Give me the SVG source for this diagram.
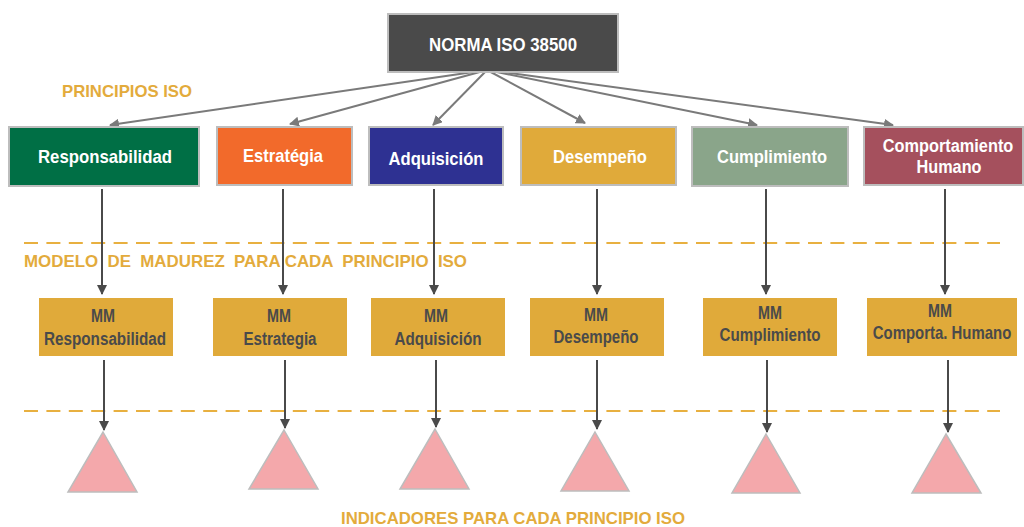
<svg xmlns="http://www.w3.org/2000/svg" width="1024" height="527" viewBox="0 0 1024 527">
<defs>
<marker id="ag" viewBox="0 0 10 10" refX="9" refY="5" markerWidth="5" markerHeight="5" orient="auto" markerUnits="strokeWidth"><path d="M0,0 L10,5 L0,10 z" fill="#7a7a7a"/></marker>
<marker id="ad" viewBox="0 0 10 10" refX="9" refY="5" markerWidth="5" markerHeight="5" orient="auto" markerUnits="strokeWidth"><path d="M0,0 L10,5 L0,10 z" fill="#4a4a4a"/></marker>
<style>
.t{font-family:"Liberation Sans",Arial,sans-serif;font-weight:bold;text-anchor:middle}
.w{fill:#ffffff;font-size:19px}
.m{fill:#4a4a4a;font-size:18px}
.lbl{font-family:"Liberation Sans",Arial,sans-serif;font-weight:bold;fill:#e3ab3c;font-size:17px}
.box{stroke:#bdbdbd;stroke-width:2}
.mm{fill:#e0aa3a}
.tri{fill:#f4a8ab;stroke:#bdbdbd;stroke-width:1.5}
.dash{stroke:#e8b040;stroke-width:2;stroke-dasharray:14 8.4;fill:none}
.ga{stroke:#7a7a7a;stroke-width:2;fill:none;marker-end:url(#ag)}
.da{stroke:#4a4a4a;stroke-width:2;fill:none;marker-end:url(#ad)}
</style>
</defs>
<rect width="1024" height="527" fill="#ffffff"/>
<line class="dash" x1="24" y1="243" x2="1000" y2="243"/>
<line class="dash" x1="24" y1="411" x2="1000" y2="411"/>
<text class="lbl" x="62" y="97" textLength="130" lengthAdjust="spacingAndGlyphs">PRINCIPIOS ISO</text>
<text class="lbl" x="24" y="267" textLength="443" lengthAdjust="spacingAndGlyphs" xml:space="preserve">MODELO  DE  MADUREZ  PARA CADA  PRINCIPIO  ISO</text>
<text class="lbl" x="341" y="524" textLength="344" lengthAdjust="spacingAndGlyphs">INDICADORES PARA CADA PRINCIPIO ISO</text>
<g id="connectors">
<line class="ga" x1="487" y1="70" x2="110" y2="125"/>
<line class="ga" x1="487" y1="70" x2="290" y2="124"/>
<line class="ga" x1="487" y1="70" x2="433" y2="125"/>
<line class="ga" x1="487" y1="70" x2="585" y2="123"/>
<line class="ga" x1="487" y1="70" x2="757" y2="125"/>
<line class="ga" x1="487" y1="70" x2="893" y2="125"/>
<line class="da" x1="102" y1="189" x2="102" y2="294"/>
<line class="da" x1="283" y1="189" x2="283" y2="294"/>
<line class="da" x1="434" y1="189" x2="434" y2="294"/>
<line class="da" x1="597" y1="189" x2="597" y2="294"/>
<line class="da" x1="766" y1="189" x2="766" y2="294"/>
<line class="da" x1="945" y1="189" x2="945" y2="294"/>
<line class="da" x1="104" y1="360" x2="104" y2="430"/>
<line class="da" x1="285" y1="360" x2="285" y2="428"/>
<line class="da" x1="436" y1="360" x2="436" y2="427"/>
<line class="da" x1="597" y1="360" x2="597" y2="429"/>
<line class="da" x1="767" y1="360" x2="767" y2="432"/>
<line class="da" x1="948" y1="360" x2="948" y2="432"/>
</g>
<g id="norma">
<rect class="box" x="388" y="14" width="230" height="58" fill="#4a4a4a"/>
<text class="t w" x="503" y="51" textLength="148" lengthAdjust="spacingAndGlyphs">NORMA ISO 38500</text>
</g>
<g id="responsabilidad">
<rect class="box" x="9" y="127" width="190" height="59" fill="#006f45"/>
<text class="t w" x="105" y="163" textLength="134" lengthAdjust="spacingAndGlyphs">Responsabilidad</text>
</g>
<g id="estrategia">
<rect class="box" x="217" y="127" width="135" height="58" fill="#f26a2b"/>
<text class="t w" x="283" y="162" textLength="80" lengthAdjust="spacingAndGlyphs">Estratégia</text>
</g>
<g id="adquisicion">
<rect class="box" x="369" y="127" width="134" height="58" fill="#2e3192"/>
<text class="t w" x="436" y="165" textLength="95" lengthAdjust="spacingAndGlyphs">Adquisición</text>
</g>
<g id="desempeno">
<rect class="box" x="521" y="127" width="155" height="58" fill="#e0aa3a"/>
<text class="t w" x="600" y="163" textLength="94" lengthAdjust="spacingAndGlyphs">Desempeño</text>
</g>
<g id="cumplimiento">
<rect class="box" x="692" y="127" width="156" height="59" fill="#8aa58a"/>
<text class="t w" x="772" y="163" textLength="110" lengthAdjust="spacingAndGlyphs">Cumplimiento</text>
</g>
<g id="comportamiento">
<rect class="box" x="864" y="127" width="159" height="58" fill="#a5505d"/>
<text class="t w" transform="translate(948,152) scale(0.86,1)" x="0" y="0">Comportamiento</text>
<text class="t w" x="949" y="173" textLength="65" lengthAdjust="spacingAndGlyphs">Humano</text>
</g>
<g id="mm-responsabilidad">
<rect class="mm" x="39" y="298" width="134" height="58"/>
<text class="t m" x="103" y="322" textLength="24" lengthAdjust="spacingAndGlyphs">MM</text>
<text class="t m" x="105" y="345" textLength="122" lengthAdjust="spacingAndGlyphs">Responsabilidad</text>
</g>
<g id="mm-estrategia">
<rect class="mm" x="213" y="298" width="134" height="58"/>
<text class="t m" x="279" y="322" textLength="24" lengthAdjust="spacingAndGlyphs">MM</text>
<text class="t m" x="280" y="345" textLength="73" lengthAdjust="spacingAndGlyphs">Estrategia</text>
</g>
<g id="mm-adquisicion">
<rect class="mm" x="371" y="298" width="134" height="58"/>
<text class="t m" x="436" y="322" textLength="24" lengthAdjust="spacingAndGlyphs">MM</text>
<text class="t m" x="438" y="345" textLength="87" lengthAdjust="spacingAndGlyphs">Adquisición</text>
</g>
<g id="mm-desempeno">
<rect class="mm" x="530" y="298" width="134" height="58"/>
<text class="t m" x="596" y="321" textLength="24" lengthAdjust="spacingAndGlyphs">MM</text>
<text class="t m" x="596" y="343" textLength="85" lengthAdjust="spacingAndGlyphs">Desempeño</text>
</g>
<g id="mm-cumplimiento">
<rect class="mm" x="703" y="298" width="134" height="58"/>
<text class="t m" x="770" y="319" textLength="24" lengthAdjust="spacingAndGlyphs">MM</text>
<text class="t m" x="770" y="341" textLength="101" lengthAdjust="spacingAndGlyphs">Cumplimiento</text>
</g>
<g id="mm-comportamiento">
<rect class="mm" x="867" y="298" width="150" height="58"/>
<text class="t m" x="940" y="317" textLength="24" lengthAdjust="spacingAndGlyphs">MM</text>
<text class="t m" transform="translate(942,339) scale(0.83,1)" x="0" y="0">Comporta. Humano</text>
</g>
<g id="ind-1"><polygon class="tri" points="103,432 137,492 68,492"/></g>
<g id="ind-2"><polygon class="tri" points="284,430 318,489 249,489"/></g>
<g id="ind-3"><polygon class="tri" points="435,429 469,489 400,489"/></g>
<g id="ind-4"><polygon class="tri" points="595,432 629,491 561,491"/></g>
<g id="ind-5"><polygon class="tri" points="766,434 800,493 732,493"/></g>
<g id="ind-6"><polygon class="tri" points="946,434 981,493 912,493"/></g>
</svg>
